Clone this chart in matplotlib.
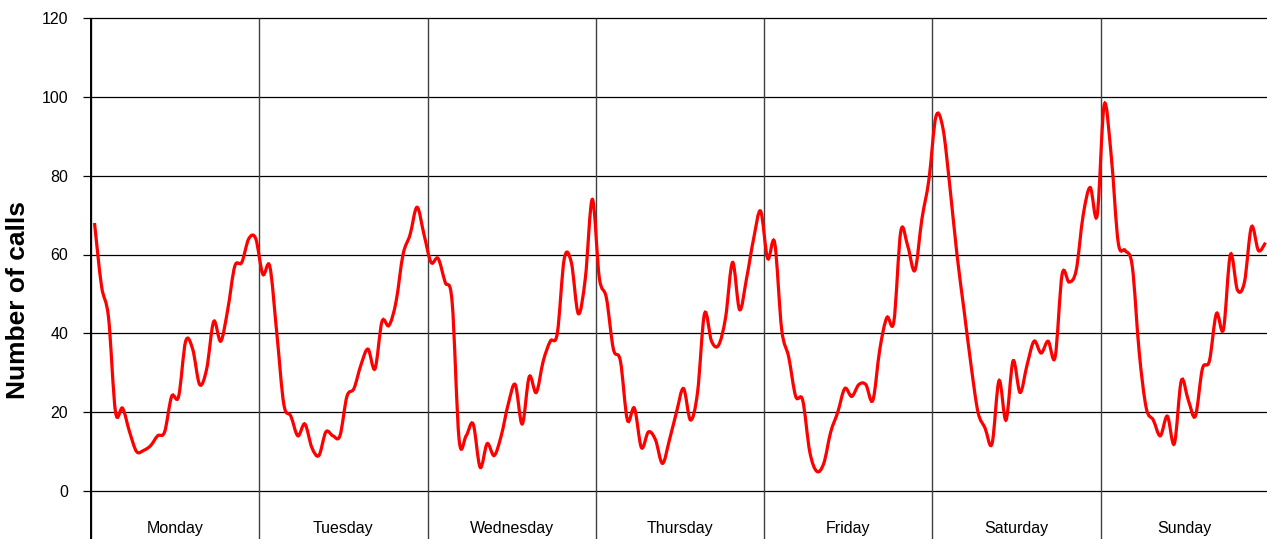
import numpy as np
import matplotlib
matplotlib.use("Agg")
import matplotlib.pyplot as plt
from matplotlib.path import Path
from matplotlib.patches import PathPatch

plt.rcParams['font.family'] = ['Liberation Sans', 'DejaVu Sans']

days = ["Monday", "Tuesday", "Wednesday", "Thursday", "Friday", "Saturday", "Sunday"]

# hourly call counts
monday = [68, 52, 44, 20, 21, 15, 10, 10.3, 11.5, 14, 15, 24, 24, 38, 36, 27, 31, 43, 38, 46, 57, 58, 64, 64]
tuesday = [55, 57, 40, 22, 19, 14, 17, 11, 9, 15, 14, 14, 24, 26, 32, 36, 31, 43, 42, 48, 60, 65, 72, 65]
wednesday = [58, 59, 53, 48, 13, 14, 17, 6, 12, 9, 14, 22, 27, 17, 29, 25, 33, 38, 40, 59, 58, 45, 54, 74]
thursday = [54, 49, 36, 33, 18, 21, 11, 15, 13, 7, 13, 20, 26, 18, 25, 45, 38, 37, 44, 58, 46, 54, 64, 71]
friday = [59, 63, 41, 34, 24, 23, 10, 5, 7, 15, 20, 26, 24, 27, 27, 23, 36, 44, 43, 66, 62, 56, 69, 79]
saturday = [95, 92, 77, 60, 46, 32, 20, 16, 12, 28, 18, 33, 25, 32, 38, 35, 38, 34, 55, 53, 56, 70, 77, 70]
sunday = [98, 85, 63, 61, 57, 35, 21, 18, 14, 19, 12, 28, 23, 19, 31, 33, 45, 41, 60, 51, 53, 67, 61, 63]

yticks = [0, 20, 40, 60, 80, 100, 120]


def smooth_path(xs, ys):
    # Excel-style smoothed line: cubic Bezier through every point
    pts = np.column_stack([xs, ys]).astype(float)
    padded = np.vstack([pts[:1], pts, pts[-1:]])
    verts = [pts[0]]
    codes = [Path.MOVETO]
    for i in range(len(pts) - 1):
        p0, p1, p2, p3 = padded[i], padded[i + 1], padded[i + 2], padded[i + 3]
        verts += [p1 + (p2 - p0) / 6, p2 - (p3 - p1) / 6, p2]
        codes += [Path.CURVE4] * 3
    return Path(verts, codes)


calls = monday + tuesday + wednesday + thursday + friday + saturday + sunday
hours = np.arange(len(calls)) + 0.5
n_hours = len(calls)
per_day = n_hours // len(days)

W, H = 1267, 539
fig = plt.figure(figsize=(W / 100, H / 100), dpi=100)
ax = fig.add_axes([91 / W, 48 / H, 1178 / W, 473 / H])
ax.set_xlim(0, n_hours)
ax.set_ylim(0, 120)

# horizontal grid
for v in yticks:
    ax.axhline(v, color="black", linewidth=0.9, zorder=1, clip_on=False)

# day separators, running down past the axis like category tick marks
day_edges = np.arange(0, n_hours + 1, per_day)
ax.vlines(day_edges, -13, 120, colors="#404040", linewidth=1.0, clip_on=False, zorder=1)
ax.vlines([0], -13, 120, colors="black", linewidth=1.4, clip_on=False, zorder=2)

for k, day in enumerate(days):
    ax.text(k * per_day + per_day / 2, -9.6, day, ha="center", va="center",
            fontsize=11.5, color="black")

ax.add_patch(PathPatch(smooth_path(hours, calls), facecolor="none",
                       edgecolor="#ff0000", linewidth=2.3, zorder=3))

ax.set_xticks([])
ax.set_yticks(yticks)
ax.set_yticklabels([str(v) for v in yticks], fontsize=11.5)
ax.tick_params(axis="y", length=6, width=0.9, pad=10.5, color="black")
for side in ["top", "right", "bottom", "left"]:
    ax.spines[side].set_visible(False)

fig.text(18.5 / W, 1 - 300 / H, "Number of calls", rotation=90, ha="center", va="center",
         fontsize=19, fontweight="bold")

fig.savefig("out.png", dpi=100)
